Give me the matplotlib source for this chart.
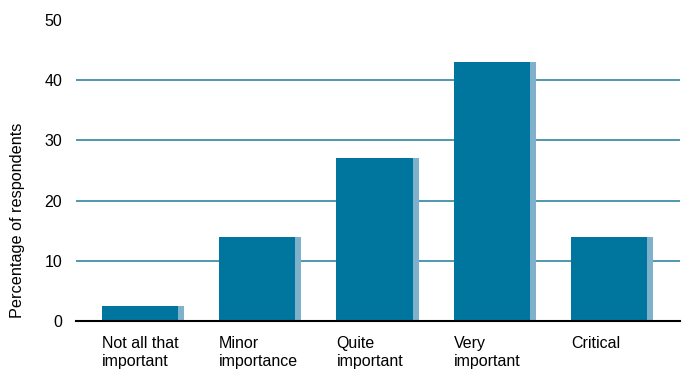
import matplotlib.pyplot as plt
import matplotlib.transforms as mtransforms

plt.rcParams["font.family"] = ["Liberation Sans", "DejaVu Sans"]

categories = ["Not all that\nimportant", "Minor\nimportance", "Quite\nimportant",
              "Very\nimportant", "Critical"]
values = [2.5, 14, 27, 43, 14]
yticks = [0, 10, 20, 30, 40, 50]

bar_color = "#00769f"
shade_color = "#7fb0cc"
grid_color = "#1f7a9b"

fig = plt.figure(figsize=(6.86, 3.74), dpi=100)
ax = fig.add_axes([76 / 686, 53 / 374, 604 / 686, 301 / 374])

x = list(range(len(values)))
w = 76 / 117
sw = 6 / 117

# gridlines (not at 0 or 50)
for t in yticks[1:-1]:
    ax.axhline(t, color=grid_color, lw=1.1, zorder=1)

ax.bar([i - w / 2 for i in x], values, width=w, align="edge", color=bar_color, zorder=2)
ax.bar([i + w / 2 for i in x], values, width=sw, align="edge", color=shade_color, zorder=2)

ax.set_xlim(-64 / 117, 4 + 71 / 117)
ax.set_ylim(0, 50)
ax.set_yticks(yticks)
ax.tick_params(axis="y", length=0, pad=10, labelsize=11.5)
ax.set_xticks([])
for s in ["top", "right", "left"]:
    ax.spines[s].set_visible(False)
ax.spines["bottom"].set_color("black")
ax.spines["bottom"].set_linewidth(1.5)
ax.spines["bottom"].set_zorder(3)

trans = mtransforms.blended_transform_factory(ax.transData, ax.transAxes)
for i, c in zip(x, categories):
    ax.text(i - w / 2, -0.05, c, transform=trans, ha="left", va="top",
            fontsize=11.5, linespacing=1.25)

# y label sits lower than the axes centre in the original
fig.text(18 / 686, 1 - 220 / 374, "Percentage of respondents", rotation=90,
         ha="center", va="center", fontsize=11.7)

fig.savefig("out.png", dpi=100)
